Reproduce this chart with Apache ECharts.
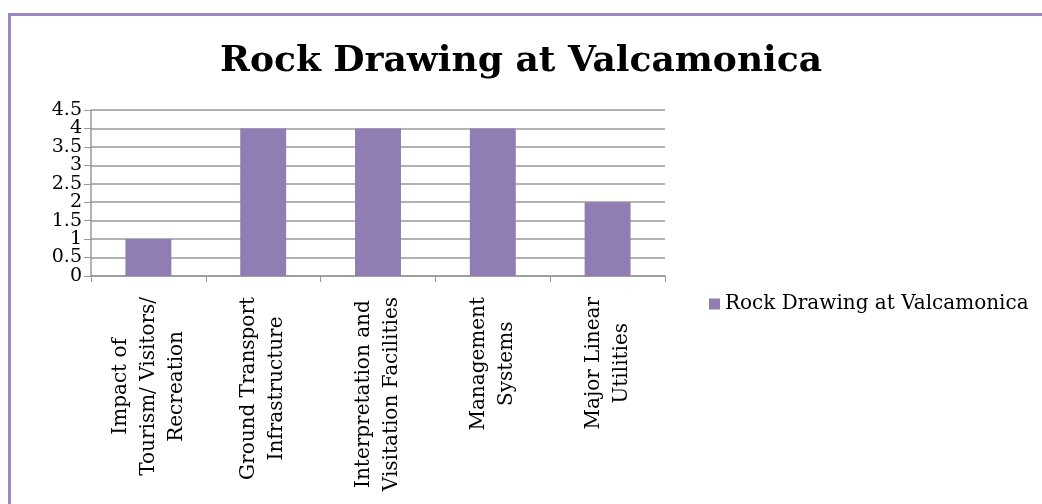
<!DOCTYPE html>
<html>
<head>
<meta charset="utf-8">
<script src="https://cdn.jsdelivr.net/npm/echarts@6/dist/echarts.min.js"></script>
<style>
  html, body { margin: 0; padding: 0; background: #fff; }
  #chart { width: 1042px; height: 504px; }
</style>
</head>
<body>
<div id="chart"></div>
<script>
var titleText = 'Rock Drawing at Valcamonica';
var seriesName = 'Rock Drawing at Valcamonica';
var categories = [
  'Impact of\nTourism/ Visitors/\nRecreation',
  'Ground Transport\nInfrastructure',
  'Interpretation and\nVisitation Facilities',
  'Management\nSystems',
  'Major Linear\nUtilities'
];
var values = [1, 4, 4, 4, 2];
var yMin = 0, yMax = 4.5, yStep = 0.5;

var serif = 'DejaVu Serif';
var myChart = echarts.init(document.getElementById('chart'));

// labels sit closer than their own height, so whole and half values go on two stacked axes
function yAxisOf(half, main) {
  return {
    type: 'value',
    position: 'left',
    min: yMin,
    max: yMax,
    interval: yStep,
    axisLine: { show: main, lineStyle: { color: '#999', width: 1.5 } },
    axisTick: { show: main, length: 7, lineStyle: { color: '#999' } },
    splitLine: { show: main, lineStyle: { color: '#999', width: 1.5 } },
    axisLabel: {
      fontFamily: serif, fontSize: 19, color: '#000', margin: 9,
      showMinLabel: true, showMaxLabel: true,
      formatter: function (v) { return ((v % 1 !== 0) === half) ? String(v) : ''; }
    }
  };
}

option = {
  color: ['#8f7db3'],
  animation: false,
  graphic: [{
    type: 'rect',
    shape: { x: 9.5, y: 14.5, width: 1100, height: 600 },
    style: { fill: 'none', stroke: '#9b87c1', lineWidth: 3 }
  }],
  title: {
    text: titleText,
    left: 'center',
    top: 39,
    textStyle: { fontFamily: serif, fontWeight: 'bold', fontSize: 36, color: '#000' }
  },
  legend: {
    left: 704,
    top: 289,
    itemWidth: 11,
    itemHeight: 11,
    icon: 'rect',
    itemGap: 6,
    textStyle: { fontFamily: serif, fontSize: 20, color: '#000' }
  },
  grid: { left: 91, right: 377, top: 110, bottom: 228 },
  xAxis: {
    type: 'category',
    data: categories,
    axisLine: { lineStyle: { color: '#999', width: 1.5 } },
    axisTick: { show: true, length: 6, lineStyle: { color: '#999' } },
    axisLabel: {
      rotate: 90,
      margin: 21,
      interval: 0,
      fontFamily: serif,
      fontSize: 20,
      color: '#000',
      lineHeight: 28,
      formatter: function (v) {
        return v.split('\n').map(function (s) { return '{c|' + s + '}'; }).join('\n');
      },
      rich: { c: { align: 'center', fontFamily: serif, fontSize: 20, lineHeight: 28, color: '#000' } }
    }
  },
  yAxis: [yAxisOf(false, true), yAxisOf(true, false)],
  series: [{
    name: seriesName,
    type: 'bar',
    yAxisIndex: 0,
    barCategoryGap: '60%',
    data: values
  }]
};

myChart.setOption(option);
</script>
</body>
</html>
